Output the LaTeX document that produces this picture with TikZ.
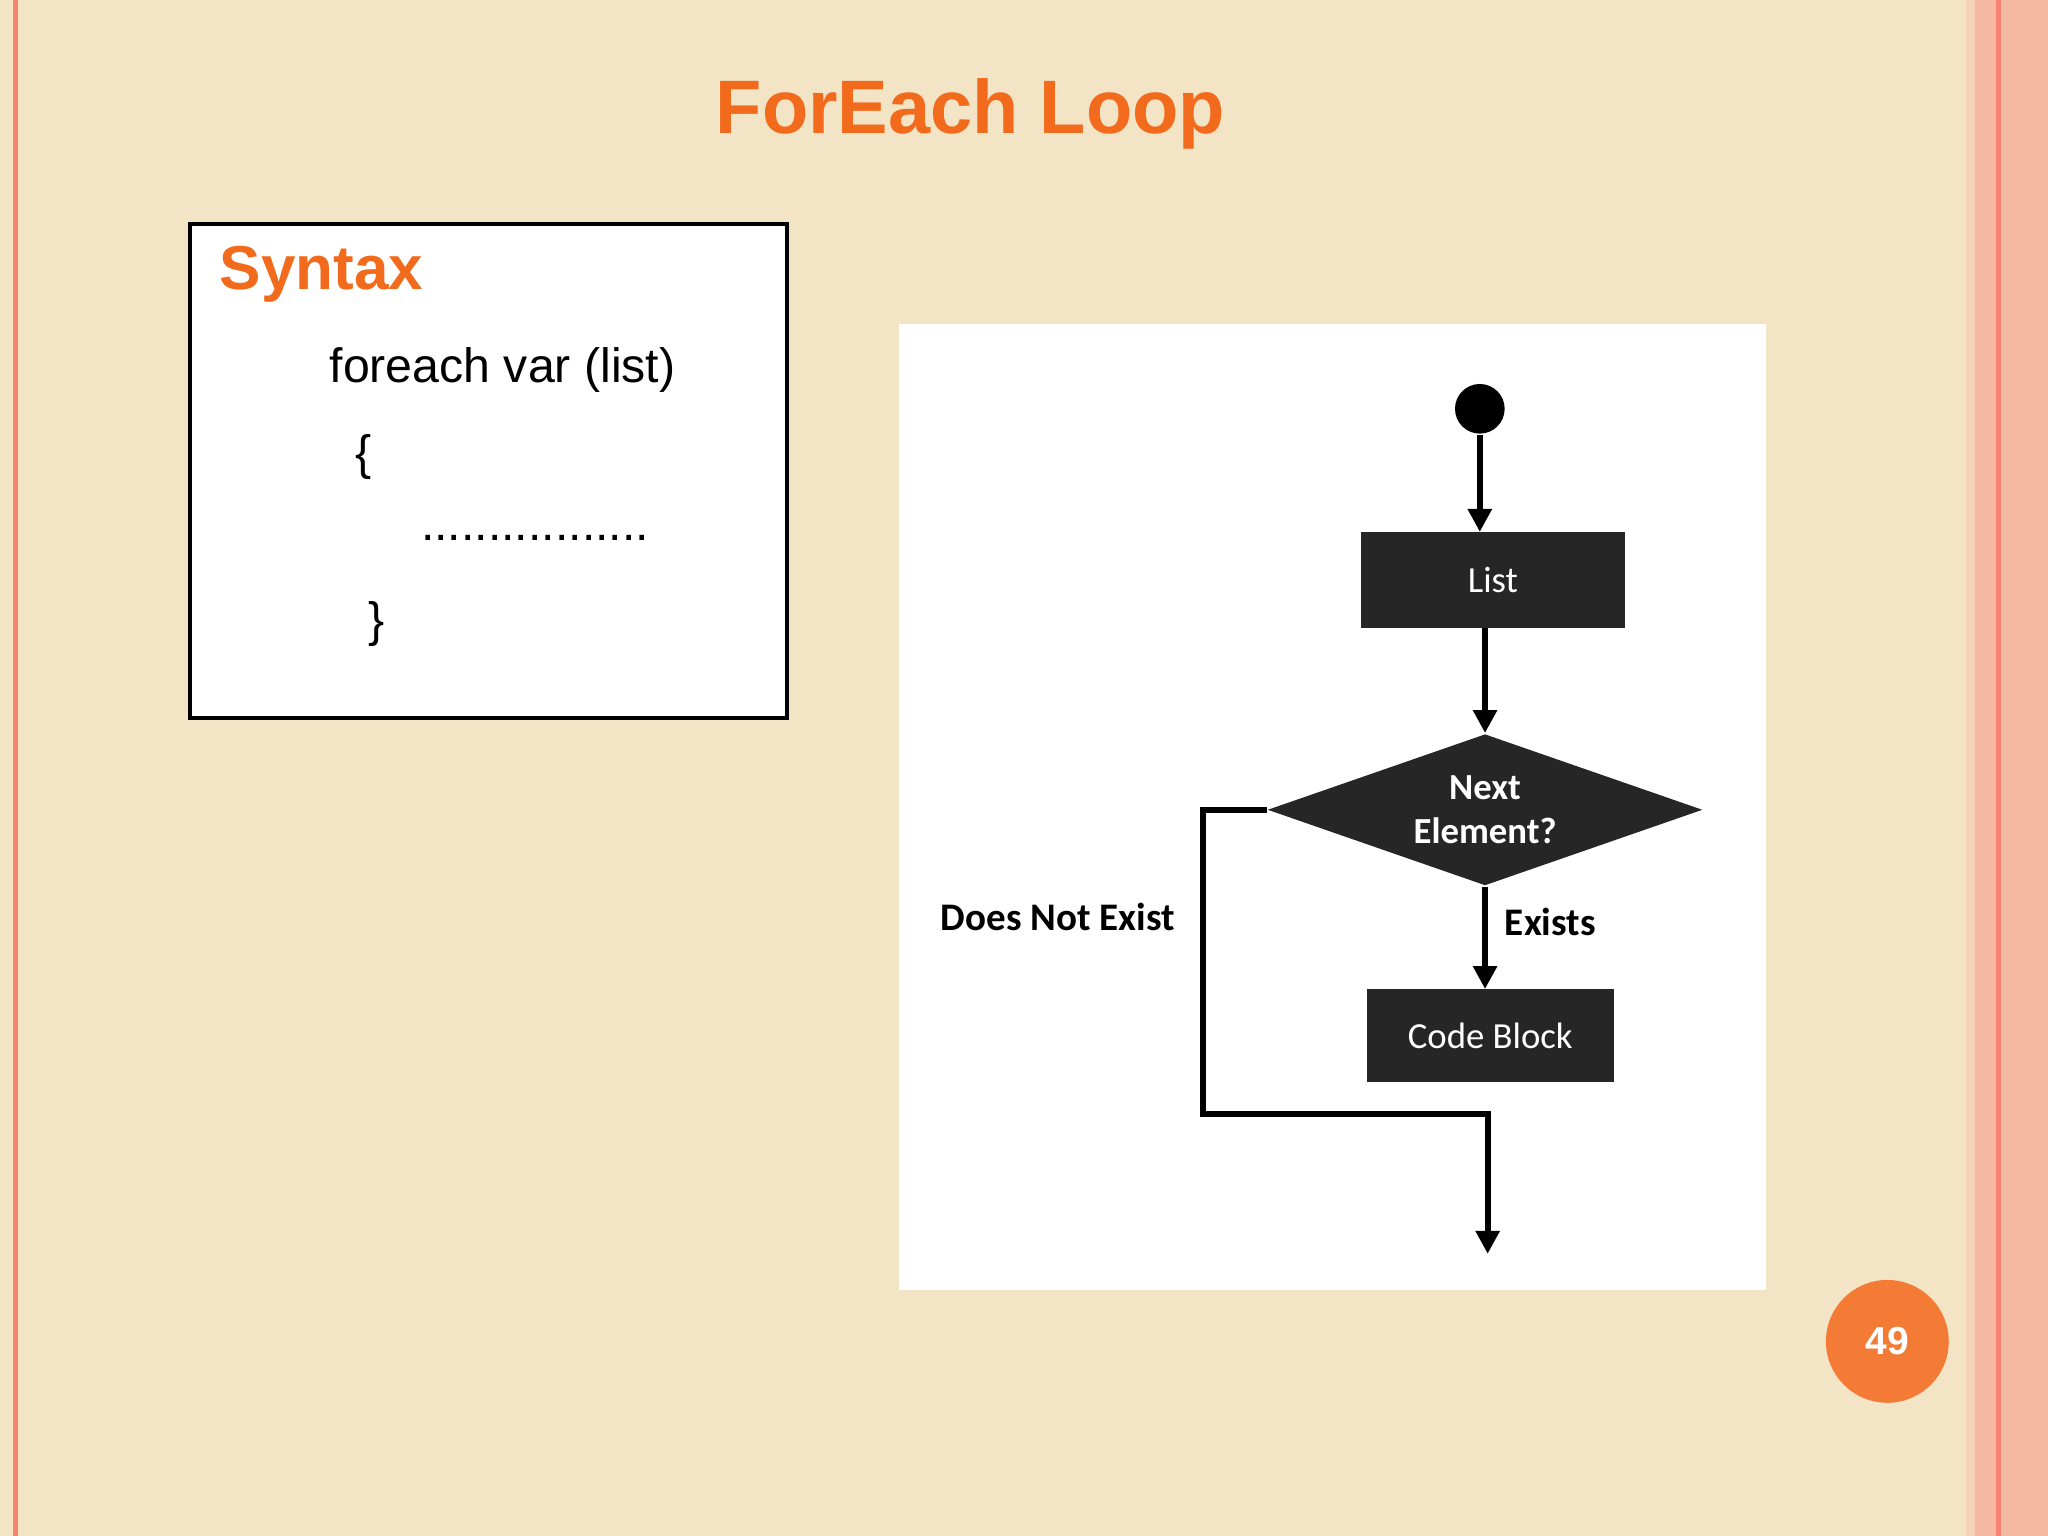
\documentclass[tikz,border=0pt]{standalone}
\usepackage{fontspec}
\setmainfont{Liberation Sans}
\newfontfamily\carfont{Carlito}
\usetikzlibrary{shapes.geometric,arrows.meta}
\definecolor{bg}{HTML}{F3E4C6}
\definecolor{ttl}{HTML}{F26A1B}
\definecolor{dk}{HTML}{262626}
\definecolor{pk}{HTML}{F5B9A2}
\definecolor{onum}{HTML}{F47B35}
\begin{document}
\begin{tikzpicture}[x=0.01cm,y=-0.01cm,
  blk/.style={fill=dk,draw=dk,minimum width=#1,text=white,font=\carfont\fontsize{8}{9}\selectfont},
  ar/.style={-{Triangle[length=5pt,width=5pt]},line width=1.3pt},
  lab/.style={font=\carfont\bfseries\fontsize{8.5}{10}\selectfont}]
\useasboundingbox (0,0) rectangle (1568,1176);
\fill[bg] (0,0) rectangle (1568,1176);
\fill[pk] (1505,0) rectangle (1568,1176);
\draw[pk!70!red,line width=1pt] (12,0) -- (12,1176);
\draw[pk!70!red,line width=1pt] (1530,0) -- (1530,1176);
\fill[bg!60!pk] (1505,0) rectangle (1512,1176);
\node[font=\bfseries\fontsize{16.5}{20}\selectfont,text=ttl] (title) at (743,87) {ForEach Loop};
\node[draw=black,fill=white,line width=0.8pt,minimum width=4.57cm,minimum height=3.78cm,anchor=north west] (syn) at (144,170) {};
\node[font=\bfseries\fontsize{13.5}{16}\selectfont,text=ttl,anchor=west] (st) at (156,210) {Syntax};
\node[font=\fontsize{10.5}{13}\selectfont,anchor=west] (l1) at (240,283) {foreach var (list)};
\node[font=\fontsize{10.5}{13}\selectfont,anchor=west] (l2) at (260,350) {\{};
\node[font=\fontsize{10.5}{13}\selectfont,anchor=west] (l3) at (310,412) {.................};
\node[font=\fontsize{10.5}{13}\selectfont,anchor=west] (l4) at (270,478) {\}};
\fill[white] (688,248) rectangle (1352,988);
\node[circle,fill=black,minimum size=0.38cm,inner sep=0] (start) at (1133,313) {};
\node[blk=2.01cm,minimum height=0.72cm] (list) at (1143,444) {List};
\node[diamond,aspect=2.87,fill=dk,minimum width=3.33cm,minimum height=1.16cm,inner sep=0,text=white,align=center,font=\carfont\bfseries\fontsize{8}{9.5}\selectfont] (dec) at (1137,620) {Next\\Element?};
\node[blk=1.88cm,minimum height=0.70cm] (code) at (1141,793) {Code Block};
\coordinate (c1) at (921,620);
\coordinate (c2) at (921,853);
\coordinate (c3) at (1139,853);
\coordinate (end) at (1139,960);
\draw[ar] (start) -- (list.north -| start);
\draw[ar] (list.south -| dec.north) -- (dec.north);
\draw[ar] (dec.south) -- (code.north -| dec.south);
\draw[ar] (dec.west) -- (c1) -- (c2) -- (c3) -- (end);
\node[lab] (ex) at (1187,706) {Exists};
\node[lab] (dne) at (810,702) {Does Not Exist};
\node[circle,fill=onum,minimum size=0.94cm,text=white,font=\bfseries\fontsize{8.5}{10}\selectfont] (pg) at (1445,1027) {49};
\end{tikzpicture}
\end{document}
